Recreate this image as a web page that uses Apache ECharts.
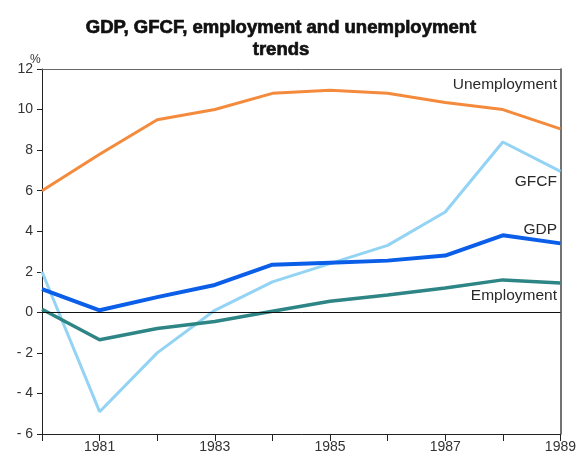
<!doctype html>
<html lang="en">
<head>
    <meta charset="UTF-8">
    <title>GDP, GFCF, employment and unemployment trends</title>
    <script src="https://cdn.jsdelivr.net/npm/echarts@6/dist/echarts.min.js"></script>
    <style>
        html, body { margin: 0; padding: 0; background: #fff; }
        #chart { width: 579px; height: 460px; }
    </style>
</head>
<body>
<div id="chart"></div>
<script>
    var years = ['1980', '1981', '1982', '1983', '1984', '1985', '1986', '1987', '1988', '1989'];
    var unemployment = [6.0, 7.8, 9.5, 10.0, 10.8, 10.95, 10.8, 10.35, 10.0, 9.05];
    var gfcf = [2.0, -4.9, -2.0, 0.1, 1.5, 2.4, 3.3, 4.95, 8.4, 6.95];
    var gdp = [1.15, 0.1, 0.75, 1.35, 2.35, 2.45, 2.55, 2.8, 3.8, 3.4];
    var employment = [0.15, -1.35, -0.8, -0.45, 0.05, 0.55, 0.85, 1.2, 1.6, 1.45];
    var yTicks = [-6, 12, 2];

    var chart = echarts.init(document.getElementById('chart'));
    var font = 'Liberation Sans, Arial, sans-serif';

    var option = {
        animation: false,
        title: {
            text: 'GDP, GFCF, employment and unemployment\ntrends',
            left: 276,
            top: 12,
            textAlign: 'center',
            textStyle: {
                fontFamily: font, fontWeight: 'bold', fontSize: 18.5, lineHeight: 22, color: '#111',
                textBorderColor: '#111', textBorderWidth: 0.7
            }
        },
        grid: { left: 42, right: 13, top: 69, bottom: 26 },
        xAxis: [{
            type: 'category',
            data: years,
            boundaryGap: false,
            axisLine: { onZero: false, lineStyle: { color: '#222', width: 1 } },
            axisTick: { interval: 0, length: 7, lineStyle: { color: '#222' } },
            axisLabel: {
                interval: function (i) { return i % 2 === 1; },
                margin: 6,
                color: '#333', fontFamily: font, fontSize: 14
            },
            splitLine: { show: false }
        }, {
            type: 'category',
            data: years,
            boundaryGap: false,
            position: 'top',
            axisLine: { onZero: false, lineStyle: { color: '#666', width: 1 } },
            axisTick: { show: false },
            axisLabel: { show: false }
        }],
        yAxis: [{
            type: 'value',
            min: yTicks[0], max: yTicks[1], interval: yTicks[2],
            axisLine: { show: true, onZero: false, lineStyle: { color: '#222', width: 1 } },
            axisTick: { show: true, length: 5, lineStyle: { color: '#222' } },
            axisLabel: {
                margin: 9,
                color: '#333', fontFamily: font, fontSize: 14,
                formatter: function (v) { return v < 0 ? '- ' + Math.abs(v) : String(v); }
            },
            splitLine: { show: false }
        }, {
            type: 'value',
            min: yTicks[0], max: yTicks[1], interval: yTicks[2],
            position: 'right',
            axisLine: { show: true, onZero: false, lineStyle: { color: '#444', width: 1.5 } },
            axisTick: { show: false },
            axisLabel: { show: false },
            splitLine: { show: false }
        }],
        graphic: [
            { type: 'text', left: 30, top: 54, style: { text: '%', fontSize: 12, fill: '#333', fontFamily: font } },
            { type: 'text', right: 22, top: 77, style: { text: 'Unemployment', fontSize: 15.5, fill: '#2a2a2a', fontFamily: font } },
            { type: 'text', right: 22, top: 174, style: { text: 'GFCF', fontSize: 15.5, fill: '#2a2a2a', fontFamily: font } },
            { type: 'text', right: 22, top: 222, style: { text: 'GDP', fontSize: 15.5, fill: '#2a2a2a', fontFamily: font } },
            { type: 'text', right: 22, top: 288, style: { text: 'Employment', fontSize: 15.5, fill: '#2a2a2a', fontFamily: font } }
        ],
        series: [
            {
                name: 'Employment', type: 'line', data: employment,
                symbol: 'none', z: 3,
                lineStyle: { color: '#2e8585', width: 3.5 },
                markLine: {
                    silent: true, symbol: 'none', label: { show: false },
                    lineStyle: { color: '#111', width: 1, type: 'solid' },
                    data: [{ yAxis: 0 }]
                }
            },
            {
                name: 'GFCF', type: 'line', data: gfcf,
                symbol: 'none', z: 2,
                lineStyle: { color: '#93d3f4', width: 3 }
            },
            {
                name: 'GDP', type: 'line', data: gdp,
                symbol: 'none', z: 4,
                lineStyle: { color: '#0b5ee8', width: 4 }
            },
            {
                name: 'Unemployment', type: 'line', data: unemployment,
                symbol: 'none', z: 2,
                lineStyle: { color: '#f48a3c', width: 3 }
            }
        ]
    };

    chart.setOption(option);
</script>
</body>
</html>
